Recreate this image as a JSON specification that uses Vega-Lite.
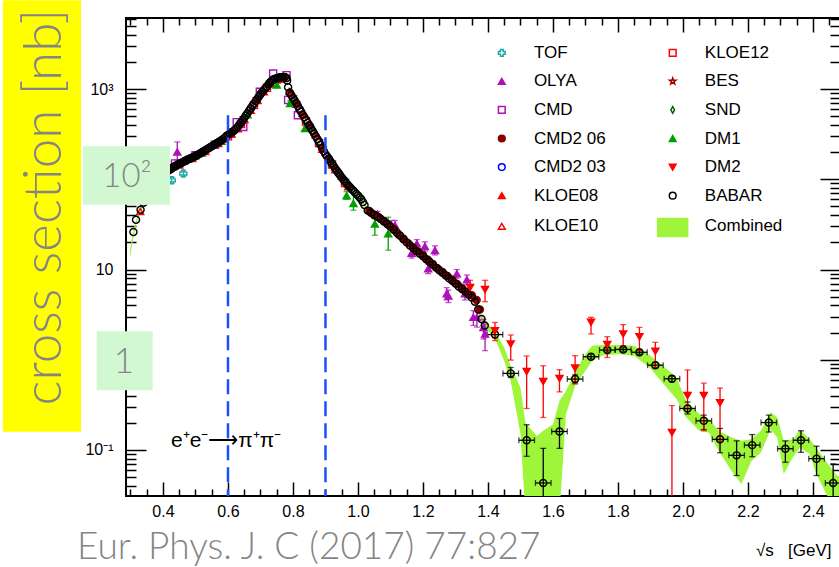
{
"$schema": "https://vega.github.io/schema/vega-lite/v6.json",
"width": 714, "height": 478,
"autosize": {"type": "none"},
"padding": {"left": 126, "top": 18, "right": 0, "bottom": 71},
"background": "white",
"config": {"view": {"stroke": "black", "strokeWidth": 2}, "axis": {"grid": false}},
"resolve": {"axis": {"x": "independent", "y": "independent"}},
"datasets": {
"band": [
{"x":0.2985,"lo":13.5,"hi":16},{"x":0.305,"lo":19,"hi":23},{"x":0.31,"lo":24,"hi":28},{"x":0.32,"lo":34,"hi":38},{"x":0.33,"lo":43,"hi":47},{"x":0.35,"lo":62,"hi":66},{"x":0.4,"lo":109,"hi":115},{"x":0.45,"lo":145,"hi":153},{"x":0.5,"lo":177,"hi":187},{"x":0.55,"lo":226,"hi":238},{"x":0.6,"lo":302,"hi":318},{"x":0.65,"lo":467,"hi":493},{"x":0.7,"lo":860,"hi":900},{"x":0.74,"lo":1255,"hi":1315},{"x":0.77,"lo":1335,"hi":1395},{"x":0.78,"lo":1300,"hi":1360},{"x":0.785,"lo":1025,"hi":1075},{"x":0.79,"lo":890,"hi":930},{"x":0.8,"lo":780,"hi":820},{"x":0.85,"lo":385,"hi":405},{"x":0.9,"lo":185,"hi":195},{"x":0.95,"lo":102,"hi":108},{"x":1.0,"lo":64,"hi":68},{"x":1.02,"lo":50,"hi":54},{"x":1.05,"lo":39.5,"hi":41.5},{"x":1.1,"lo":29,"hi":31},{"x":1.15,"lo":19.4,"hi":20.6},{"x":1.2,"lo":13.6,"hi":14.4},{"x":1.25,"lo":9.5,"hi":10.1},{"x":1.3,"lo":6.8,"hi":7.2},{"x":1.35,"lo":4.7,"hi":5.1},{"x":1.38,"lo":2.75,"hi":3.05},{"x":1.4,"lo":2.1,"hi":2.5},{"x":1.42,"lo":1.75,"hi":2.1},{"x":1.45,"lo":0.97,"hi":1.37},{"x":1.47,"lo":0.58,"hi":0.86},{"x":1.5,"lo":0.15,"hi":0.49},{"x":1.515,"lo":0.02,"hi":0.2},{"x":1.55,"lo":0.02,"hi":0.143},{"x":1.57,"lo":0.02,"hi":0.163},{"x":1.6,"lo":0.02,"hi":0.193},{"x":1.62,"lo":0.02,"hi":0.35},{"x":1.64,"lo":0.25,"hi":0.45},{"x":1.67,"lo":0.537,"hi":0.755},{"x":1.7,"lo":0.755,"hi":1.16},{"x":1.72,"lo":0.97,"hi":1.43},{"x":1.75,"lo":1.11,"hi":1.46},{"x":1.8,"lo":1.16,"hi":1.46},{"x":1.85,"lo":1.11,"hi":1.43},{"x":1.9,"lo":0.8,"hi":1.11},{"x":1.95,"lo":0.49,"hi":0.79},{"x":1.98,"lo":0.366,"hi":0.635},{"x":2.01,"lo":0.229,"hi":0.35},{"x":2.05,"lo":0.163,"hi":0.25},{"x":2.08,"lo":0.155,"hi":0.22},{"x":2.11,"lo":0.097,"hi":0.163},{"x":2.15,"lo":0.058,"hi":0.137},{"x":2.18,"lo":0.042,"hi":0.126},{"x":2.21,"lo":0.075,"hi":0.131},{"x":2.24,"lo":0.094,"hi":0.163},{"x":2.27,"lo":0.17,"hi":0.262},{"x":2.29,"lo":0.137,"hi":0.229},{"x":2.31,"lo":0.054,"hi":0.126},{"x":2.34,"lo":0.085,"hi":0.131},{"x":2.36,"lo":0.106,"hi":0.17},{"x":2.39,"lo":0.09,"hi":0.131},{"x":2.41,"lo":0.054,"hi":0.106},{"x":2.44,"lo":0.033,"hi":0.075},{"x":2.47,"lo":0.02,"hi":0.054},{"x":2.49,"lo":0.02,"hi":0.045}
],
"pts": [
{"e":"KLOE10","x":0.33,"y":44},{"e":"KLOE10","x":0.37,"y":79},{"e":"KLOE10","x":0.41,"y":116},{"e":"KLOE10","x":0.45,"y":144},{"e":"KLOE10","x":0.49,"y":170},{"e":"KLOE10","x":0.53,"y":203},{"e":"KLOE10","x":0.57,"y":250},{"e":"KLOE10","x":0.61,"y":320},{"e":"KLOE10","x":0.65,"y":465},{"e":"KLOE10","x":0.69,"y":755},{"e":"KLOE10","x":0.73,"y":1150},{"e":"KLOE10","x":0.77,"y":1320},{"e":"KLOE10","x":0.81,"y":680},{"e":"KLOE10","x":0.85,"y":382},{"e":"KLOE10","x":0.89,"y":215},{"e":"KLOE10","x":0.93,"y":128},{"e":"KLOE10","x":0.97,"y":83},
{"e":"KLOE12","x":0.6,"y":300},{"e":"KLOE12","x":0.64,"y":410},{"e":"KLOE12","x":0.68,"y":665},{"e":"KLOE12","x":0.72,"y":1035},{"e":"KLOE12","x":0.76,"y":1310},{"e":"KLOE12","x":0.8,"y":775},{"e":"KLOE12","x":0.84,"y":440},{"e":"KLOE12","x":0.88,"y":252},{"e":"KLOE12","x":0.92,"y":146},{"e":"KLOE12","x":0.96,"y":91},
{"e":"KLOE08","x":0.59,"y":280},{"e":"KLOE08","x":0.61,"y":318},{"e":"KLOE08","x":0.63,"y":365},{"e":"KLOE08","x":0.65,"y":460},{"e":"KLOE08","x":0.67,"y":585},{"e":"KLOE08","x":0.69,"y":750},{"e":"KLOE08","x":0.71,"y":935},{"e":"KLOE08","x":0.73,"y":1140},{"e":"KLOE08","x":0.75,"y":1265},{"e":"KLOE08","x":0.77,"y":1310},{"e":"KLOE08","x":0.79,"y":940},{"e":"KLOE08","x":0.81,"y":730},{"e":"KLOE08","x":0.83,"y":540},{"e":"KLOE08","x":0.85,"y":410},{"e":"KLOE08","x":0.87,"y":312},{"e":"KLOE08","x":0.89,"y":230},{"e":"KLOE08","x":0.91,"y":174},{"e":"KLOE08","x":0.93,"y":137},{"e":"KLOE08","x":0.95,"y":109},{"e":"KLOE08","x":0.97,"y":89},
{"e":"SND","x":0.4,"y":110},{"e":"SND","x":0.46,"y":153},{"e":"SND","x":0.473,"y":163},{"e":"SND","x":0.52,"y":197},{"e":"SND","x":0.58,"y":268},{"e":"SND","x":0.64,"y":430},{"e":"SND","x":0.7,"y":870},{"e":"SND","x":0.76,"y":1340},{"e":"SND","x":0.8,"y":790},{"e":"SND","x":0.86,"y":340},{"e":"SND","x":0.92,"y":148},{"e":"SND","x":0.97,"y":85},
{"e":"BES","x":0.61,"y":328},{"e":"BES","x":0.65,"y":478},{"e":"BES","x":0.69,"y":778},{"e":"BES","x":0.73,"y":1185},{"e":"BES","x":0.77,"y":1360},{"e":"BES","x":0.81,"y":698},{"e":"BES","x":0.85,"y":393},{"e":"BES","x":0.89,"y":221},
{"e":"CMD2 03","x":0.61,"y":332},{"e":"CMD2 03","x":0.64,"y":428},{"e":"CMD2 03","x":0.67,"y":612},{"e":"CMD2 03","x":0.7,"y":884},{"e":"CMD2 03","x":0.73,"y":1195},{"e":"CMD2 03","x":0.76,"y":1355},{"e":"CMD2 03","x":0.79,"y":915},{"e":"CMD2 03","x":0.82,"y":603},{"e":"CMD2 03","x":0.85,"y":398},{"e":"CMD2 03","x":0.88,"y":262},{"e":"CMD2 03","x":0.91,"y":170},{"e":"CMD2 03","x":0.94,"y":118},{"e":"CMD2 03","x":0.96,"y":95},
{"e":"CMD","x":0.437,"y":150},{"e":"CMD","x":0.5,"y":185},{"e":"CMD","x":0.56,"y":242},{"e":"CMD","x":0.627,"y":430},{"e":"CMD","x":0.647,"y":381},{"e":"CMD","x":0.698,"y":935},{"e":"CMD","x":0.739,"y":1490},{"e":"CMD","x":0.78,"y":1430},{"e":"CMD","x":0.785,"y":760},{"e":"CMD","x":0.815,"y":514},
{"e":"TOF","x":0.427,"y":97.5,"lo":90,"hi":105},{"e":"TOF","x":0.4625,"y":116,"lo":108,"hi":124},
{"e":"DM1","x":0.483,"y":171},{"e":"DM1","x":0.52,"y":196},{"e":"DM1","x":0.58,"y":265},{"e":"DM1","x":0.66,"y":520},{"e":"DM1","x":0.75,"y":1110,"lo":1040,"hi":1180},{"e":"DM1","x":0.791,"y":693,"lo":650,"hi":740},{"e":"DM1","x":0.837,"y":366,"lo":340,"hi":392},{"e":"DM1","x":0.965,"y":66,"lo":60,"hi":73},{"e":"DM1","x":0.986,"y":54,"lo":45.5,"hi":72.8},{"e":"DM1","x":1.052,"y":32,"lo":24,"hi":38.4},{"e":"DM1","x":1.093,"y":25,"lo":16.4,"hi":38},
{"e":"OLYA","x":0.444,"y":201,"lo":163,"hi":260},{"e":"OLYA","x":1.06,"y":41,"lo":38,"hi":44},{"e":"OLYA","x":1.103,"y":31,"lo":27.5,"hi":35},{"e":"OLYA","x":1.114,"y":30.8,"lo":27,"hi":35},{"e":"OLYA","x":1.165,"y":15.2,"lo":13.4,"hi":17.2},{"e":"OLYA","x":1.181,"y":19.3,"lo":17.2,"hi":21.5},{"e":"OLYA","x":1.206,"y":18,"lo":16,"hi":20.3},{"e":"OLYA","x":1.216,"y":10.2,"lo":9,"hi":11.5},{"e":"OLYA","x":1.237,"y":16.3,"lo":14.5,"hi":18.3},{"e":"OLYA","x":1.273,"y":5.4,"lo":4.6,"hi":6.3},{"e":"OLYA","x":1.278,"y":5.1,"lo":4.3,"hi":5.9},{"e":"OLYA","x":1.304,"y":8.96,"lo":8,"hi":10},{"e":"OLYA","x":1.329,"y":5.4,"lo":4.6,"hi":6.2},{"e":"OLYA","x":1.335,"y":7.7,"lo":6.8,"hi":8.7},{"e":"OLYA","x":1.355,"y":2.95,"lo":2.4,"hi":3.5},{"e":"OLYA","x":1.366,"y":2.95,"lo":2.3,"hi":3.6},{"e":"OLYA","x":1.386,"y":2.28,"lo":1.7,"hi":2.8},{"e":"OLYA","x":1.391,"y":1.93,"lo":1.26,"hi":2.49},
{"e":"CMD2 06","x":0.375,"y":86},{"e":"CMD2 06","x":0.39,"y":100},{"e":"CMD2 06","x":0.41,"y":118},{"e":"CMD2 06","x":0.425,"y":130},{"e":"CMD2 06","x":0.44,"y":140},{"e":"CMD2 06","x":0.455,"y":150},{"e":"CMD2 06","x":0.47,"y":160},{"e":"CMD2 06","x":0.485,"y":170},{"e":"CMD2 06","x":0.5,"y":180},{"e":"CMD2 06","x":0.52,"y":198},
{"e":"CMD2 06","x":1.035,"y":44.5},{"e":"CMD2 06","x":1.05,"y":40},{"e":"CMD2 06","x":1.065,"y":37.8},{"e":"CMD2 06","x":1.08,"y":34.5},{"e":"CMD2 06","x":1.095,"y":31},{"e":"CMD2 06","x":1.11,"y":28},{"e":"CMD2 06","x":1.125,"y":24.5},{"e":"CMD2 06","x":1.14,"y":22},{"e":"CMD2 06","x":1.155,"y":19.5},{"e":"CMD2 06","x":1.17,"y":17.5},{"e":"CMD2 06","x":1.185,"y":15.8},{"e":"CMD2 06","x":1.2,"y":14.5},{"e":"CMD2 06","x":1.215,"y":12.8},{"e":"CMD2 06","x":1.23,"y":11.5},{"e":"CMD2 06","x":1.245,"y":10.3},{"e":"CMD2 06","x":1.26,"y":9.4},{"e":"CMD2 06","x":1.275,"y":8.5},{"e":"CMD2 06","x":1.29,"y":7.7},{"e":"CMD2 06","x":1.305,"y":6.9},{"e":"CMD2 06","x":1.32,"y":6.2},{"e":"CMD2 06","x":1.335,"y":5.6},{"e":"CMD2 06","x":1.35,"y":5.2},{"e":"CMD2 06","x":1.365,"y":4.6},{"e":"CMD2 06","x":1.375,"y":3.6},
{"e":"BABAR","x":0.309,"y":26},{"e":"BABAR","x":0.317,"y":35.6},{"e":"BABAR","x":0.331,"y":46},{"e":"BABAR","x":0.34,"y":55},{"e":"BABAR","x":0.345,"y":59.5},{"e":"BABAR","x":0.35,"y":64},{"e":"BABAR","x":0.355,"y":68.5},{"e":"BABAR","x":0.36,"y":73},{"e":"BABAR","x":0.365,"y":77.5},{"e":"BABAR","x":0.37,"y":82},{"e":"BABAR","x":0.375,"y":87},{"e":"BABAR","x":0.38,"y":92},{"e":"BABAR","x":0.385,"y":97},{"e":"BABAR","x":0.39,"y":102},{"e":"BABAR","x":0.395,"y":107},{"e":"BABAR","x":0.4,"y":112},{"e":"BABAR","x":0.405,"y":116},{"e":"BABAR","x":0.41,"y":120},{"e":"BABAR","x":0.415,"y":124},{"e":"BABAR","x":0.42,"y":128},{"e":"BABAR","x":0.425,"y":131.5},{"e":"BABAR","x":0.43,"y":135},{"e":"BABAR","x":0.435,"y":138.5},{"e":"BABAR","x":0.44,"y":142},{"e":"BABAR","x":0.445,"y":145.5},{"e":"BABAR","x":0.45,"y":149},{"e":"BABAR","x":0.455,"y":152},{"e":"BABAR","x":0.46,"y":155},{"e":"BABAR","x":0.465,"y":158.5},{"e":"BABAR","x":0.47,"y":162},{"e":"BABAR","x":0.475,"y":165},{"e":"BABAR","x":0.48,"y":168},{"e":"BABAR","x":0.485,"y":171.5},{"e":"BABAR","x":0.49,"y":175},{"e":"BABAR","x":0.495,"y":178.5},{"e":"BABAR","x":0.5,"y":182},{"e":"BABAR","x":0.505,"y":186},{"e":"BABAR","x":0.51,"y":190},{"e":"BABAR","x":0.515,"y":195},{"e":"BABAR","x":0.52,"y":200},{"e":"BABAR","x":0.525,"y":205},{"e":"BABAR","x":0.53,"y":210},{"e":"BABAR","x":0.535,"y":215.5},{"e":"BABAR","x":0.54,"y":221},{"e":"BABAR","x":0.545,"y":226.5},{"e":"BABAR","x":0.55,"y":232},{"e":"BABAR","x":0.555,"y":238.5},{"e":"BABAR","x":0.56,"y":245},{"e":"BABAR","x":0.565,"y":251.5},{"e":"BABAR","x":0.57,"y":258},{"e":"BABAR","x":0.575,"y":265},{"e":"BABAR","x":0.58,"y":272},{"e":"BABAR","x":0.585,"y":281},{"e":"BABAR","x":0.59,"y":290},{"e":"BABAR","x":0.595,"y":300},{"e":"BABAR","x":0.6,"y":310},{"e":"BABAR","x":0.605,"y":320},{"e":"BABAR","x":0.61,"y":330},{"e":"BABAR","x":0.615,"y":340},{"e":"BABAR","x":0.62,"y":350},{"e":"BABAR","x":0.625,"y":365},{"e":"BABAR","x":0.63,"y":380},{"e":"BABAR","x":0.635,"y":402},{"e":"BABAR","x":0.64,"y":425},{"e":"BABAR","x":0.645,"y":452},{"e":"BABAR","x":0.65,"y":480},{"e":"BABAR","x":0.655,"y":510},{"e":"BABAR","x":0.66,"y":540},{"e":"BABAR","x":0.665,"y":575},{"e":"BABAR","x":0.67,"y":610},{"e":"BABAR","x":0.675,"y":650},{"e":"BABAR","x":0.68,"y":690},{"e":"BABAR","x":0.685,"y":735},{"e":"BABAR","x":0.69,"y":780},{"e":"BABAR","x":0.695,"y":830},{"e":"BABAR","x":0.7,"y":880},{"e":"BABAR","x":0.705,"y":928},{"e":"BABAR","x":0.71,"y":975},{"e":"BABAR","x":0.715,"y":1022},{"e":"BABAR","x":0.72,"y":1070},{"e":"BABAR","x":0.725,"y":1130},{"e":"BABAR","x":0.73,"y":1190},{"e":"BABAR","x":0.735,"y":1240},{"e":"BABAR","x":0.74,"y":1285},{"e":"BABAR","x":0.745,"y":1305},{"e":"BABAR","x":0.75,"y":1320},{"e":"BABAR","x":0.755,"y":1335},{"e":"BABAR","x":0.76,"y":1350},{"e":"BABAR","x":0.765,"y":1358},{"e":"BABAR","x":0.77,"y":1365},{"e":"BABAR","x":0.775,"y":1360},{"e":"BABAR","x":0.78,"y":1330},{"e":"BABAR","x":0.782,"y":1250},{"e":"BABAR","x":0.785,"y":1050},{"e":"BABAR","x":0.79,"y":910},{"e":"BABAR","x":0.795,"y":855},{"e":"BABAR","x":0.8,"y":800},{"e":"BABAR","x":0.805,"y":750},{"e":"BABAR","x":0.81,"y":700},{"e":"BABAR","x":0.815,"y":650},{"e":"BABAR","x":0.82,"y":600},{"e":"BABAR","x":0.825,"y":560},{"e":"BABAR","x":0.83,"y":520},{"e":"BABAR","x":0.835,"y":487},{"e":"BABAR","x":0.84,"y":455},{"e":"BABAR","x":0.845,"y":425},{"e":"BABAR","x":0.85,"y":395},{"e":"BABAR","x":0.855,"y":370},{"e":"BABAR","x":0.86,"y":345},{"e":"BABAR","x":0.865,"y":322},{"e":"BABAR","x":0.87,"y":300},{"e":"BABAR","x":0.875,"y":280},{"e":"BABAR","x":0.88,"y":260},{"e":"BABAR","x":0.885,"y":240},{"e":"BABAR","x":0.89,"y":222},{"e":"BABAR","x":0.895,"y":205},{"e":"BABAR","x":0.9,"y":190},{"e":"BABAR","x":0.905,"y":179},{"e":"BABAR","x":0.91,"y":168},{"e":"BABAR","x":0.915,"y":159},{"e":"BABAR","x":0.92,"y":150},{"e":"BABAR","x":0.925,"y":141},{"e":"BABAR","x":0.93,"y":132},{"e":"BABAR","x":0.935,"y":124.5},{"e":"BABAR","x":0.94,"y":117},{"e":"BABAR","x":0.945,"y":111},{"e":"BABAR","x":0.95,"y":105},{"e":"BABAR","x":0.955,"y":99.5},{"e":"BABAR","x":0.96,"y":94},{"e":"BABAR","x":0.965,"y":90},{"e":"BABAR","x":0.97,"y":86},{"e":"BABAR","x":0.975,"y":82},{"e":"BABAR","x":0.98,"y":78},{"e":"BABAR","x":0.985,"y":75},{"e":"BABAR","x":0.99,"y":72},{"e":"BABAR","x":0.995,"y":69},{"e":"BABAR","x":1.0,"y":66},{"e":"BABAR","x":1.005,"y":63},{"e":"BABAR","x":1.01,"y":60},{"e":"BABAR","x":1.015,"y":56},{"e":"BABAR","x":1.02,"y":52},
{"e":"BABAR","x":1.03,"y":45},{"e":"BABAR","x":1.04,"y":42.5},{"e":"BABAR","x":1.05,"y":40.5},{"e":"BABAR","x":1.06,"y":38.5},{"e":"BABAR","x":1.07,"y":36.3},{"e":"BABAR","x":1.08,"y":34},{"e":"BABAR","x":1.09,"y":32},{"e":"BABAR","x":1.1,"y":30},{"e":"BABAR","x":1.11,"y":27.6},{"e":"BABAR","x":1.12,"y":25.5},{"e":"BABAR","x":1.13,"y":23.7},{"e":"BABAR","x":1.14,"y":21.7},{"e":"BABAR","x":1.15,"y":20},{"e":"BABAR","x":1.16,"y":18.5},{"e":"BABAR","x":1.17,"y":17.2},{"e":"BABAR","x":1.18,"y":16},{"e":"BABAR","x":1.19,"y":15},{"e":"BABAR","x":1.2,"y":14},{"e":"BABAR","x":1.21,"y":13},{"e":"BABAR","x":1.22,"y":12.2},{"e":"BABAR","x":1.23,"y":11.3},{"e":"BABAR","x":1.24,"y":10.5},{"e":"BABAR","x":1.25,"y":9.8},{"e":"BABAR","x":1.26,"y":9.2},{"e":"BABAR","x":1.27,"y":8.6},{"e":"BABAR","x":1.28,"y":8},{"e":"BABAR","x":1.29,"y":7.5},{"e":"BABAR","x":1.3,"y":7},{"e":"BABAR","x":1.31,"y":6.5},{"e":"BABAR","x":1.32,"y":6.1},{"e":"BABAR","x":1.33,"y":5.7},{"e":"BABAR","x":1.34,"y":5.3},{"e":"BABAR","x":1.35,"y":4.9},{"e":"BABAR","x":1.36,"y":4.4},{"e":"BABAR","x":1.37,"y":3.6},{"e":"BABAR","x":1.38,"y":2.83},{"e":"BABAR","x":1.39,"y":2.39},
{"e":"BABAR","x":1.4215,"y":1.9,"lo":1.75,"hi":2.05,"xl":1.3975,"xh":1.4455},{"e":"BABAR","x":1.47,"y":0.705,"lo":0.635,"hi":0.82,"xl":1.446,"xh":1.494},{"e":"BABAR","x":1.519,"y":0.128,"lo":0.085,"hi":0.19,"xl":1.495,"xh":1.543},{"e":"BABAR","x":1.57,"y":0.043,"lo":0.005,"hi":0.104,"xl":1.546,"xh":1.594},{"e":"BABAR","x":1.62,"y":0.16,"lo":0.104,"hi":0.223,"xl":1.596,"xh":1.644},{"e":"BABAR","x":1.668,"y":0.61,"lo":0.55,"hi":0.68,"xl":1.644,"xh":1.692},{"e":"BABAR","x":1.717,"y":1.08,"lo":1.02,"hi":1.15,"xl":1.693,"xh":1.741},{"e":"BABAR","x":1.767,"y":1.28,"lo":1.22,"hi":1.35,"xl":1.743,"xh":1.791},{"e":"BABAR","x":1.816,"y":1.3,"lo":1.24,"hi":1.36,"xl":1.792,"xh":1.84},{"e":"BABAR","x":1.866,"y":1.21,"lo":1.15,"hi":1.27,"xl":1.842,"xh":1.89},{"e":"BABAR","x":1.915,"y":0.87,"lo":0.82,"hi":0.93,"xl":1.891,"xh":1.939},{"e":"BABAR","x":1.966,"y":0.615,"lo":0.57,"hi":0.66,"xl":1.942,"xh":1.99},{"e":"BABAR","x":2.014,"y":0.288,"lo":0.25,"hi":0.34,"xl":1.99,"xh":2.038},{"e":"BABAR","x":2.064,"y":0.21,"lo":0.168,"hi":0.243,"xl":2.04,"xh":2.088},{"e":"BABAR","x":2.114,"y":0.131,"lo":0.093,"hi":0.173,"xl":2.09,"xh":2.138},{"e":"BABAR","x":2.165,"y":0.087,"lo":0.052,"hi":0.126,"xl":2.141,"xh":2.189},{"e":"BABAR","x":2.213,"y":0.113,"lo":0.084,"hi":0.148,"xl":2.189,"xh":2.237},{"e":"BABAR","x":2.264,"y":0.201,"lo":0.158,"hi":0.243,"xl":2.24,"xh":2.288},{"e":"BABAR","x":2.315,"y":0.103,"lo":0.073,"hi":0.126,"xl":2.291,"xh":2.339},{"e":"BABAR","x":2.363,"y":0.128,"lo":0.094,"hi":0.163,"xl":2.339,"xh":2.387},{"e":"BABAR","x":2.411,"y":0.08,"lo":0.052,"hi":0.11,"xl":2.387,"xh":2.435},{"e":"BABAR","x":2.462,"y":0.043,"lo":0.02,"hi":0.07,"xl":2.438,"xh":2.486},
{"e":"DM2","x":1.345,"y":6.3,"lo":5.2,"hi":7.6},{"e":"DM2","x":1.391,"y":6.0,"lo":4.4,"hi":7.6},{"e":"DM2","x":1.4215,"y":2.1,"lo":1.63,"hi":2.59},{"e":"DM2","x":1.47,"y":1.49,"lo":0.99,"hi":1.88},{"e":"DM2","x":1.519,"y":0.74,"lo":0.288,"hi":1.1},{"e":"DM2","x":1.57,"y":0.574,"lo":0.229,"hi":0.857},{"e":"DM2","x":1.62,"y":0.62,"lo":0.44,"hi":0.775},{"e":"DM2","x":1.668,"y":0.81,"lo":0.537,"hi":1.11},{"e":"DM2","x":1.717,"y":2.6,"lo":1.93,"hi":2.95},{"e":"DM2","x":1.767,"y":1.47,"lo":1.06,"hi":1.8},{"e":"DM2","x":1.816,"y":1.93,"lo":1.43,"hi":2.45},{"e":"DM2","x":1.866,"y":1.8,"lo":1.26,"hi":2.28},{"e":"DM2","x":1.915,"y":1.24,"lo":0.82,"hi":1.56},{"e":"DM2","x":1.966,"y":0.156,"lo":0.001,"hi":0.31},{"e":"DM2","x":2.014,"y":0.4,"lo":0.283,"hi":0.77},{"e":"DM2","x":2.064,"y":0.4,"lo":0.163,"hi":0.55},{"e":"DM2","x":2.114,"y":0.333,"lo":0.126,"hi":0.485}
]
},
"layer": [
{
"data": {"name": "band"},
"mark": {"type": "area", "color": "#9ef53a", "clip": true},
"encoding": {
"x": {"field": "x", "type": "quantitative", "scale": {"domain": [0.2862, 2.4831], "nice": false, "zero": false},
 "axis": {"orient": "bottom", "domain": false, "ticks": false, "tickSize": 0, "values": [0.4,0.6,0.8,1,1.2,1.4,1.6,1.8,2,2.2,2.4],
 "labelFont": "Liberation Sans", "labelFontSize": 16, "labelColor": "black", "labelPadding": 7, "labelOverlap": false, "labelFlush": false,
 "title": "√s\u00a0\u00a0\u00a0[GeV]", "titleX": 705, "titleY": 59, "titleAlign": "right", "titleBaseline": "alphabetic", "titleFont": "Liberation Sans", "titleFontSize": 17, "titleFontWeight": "normal", "titleColor": "black"}},
"y": {"field": "lo", "type": "quantitative", "scale": {"type": "log", "domain": [0.03083, 6150], "nice": false},
 "axis": {"orient": "left", "domain": false, "ticks": false, "tickSize": 0, "values": [0.1, 10, 1000],
 "labelExpr": "datum.value==1000 ? '10³' : datum.value==10 ? '10' : '10⁻¹'",
 "labelFont": "Liberation Sans", "labelFontSize": 16, "labelColor": "black", "labelPadding": 13, "labelOverlap": false, "labelFlush": false, "title": null}},
"y2": {"field": "hi"}
}
},
{
"data": {"name": "pts"},
"transform": [{"filter": "isValid(datum.lo)"}],
"mark": {"type": "rule", "strokeWidth": 1.3, "clip": true},
"encoding": {
"x": {"field": "x", "type": "quantitative", "scale": {"domain": [0.2862, 2.4831], "nice": false, "zero": false},
 "axis": {"orient": "bottom", "domain": false, "labels": false, "title": null, "values": [0.3,0.35,0.4,0.45,0.5,0.55,0.6,0.65,0.7,0.75,0.8,0.85,0.9,0.95,1,1.05,1.1,1.15,1.2,1.25,1.3,1.35,1.4,1.45,1.5,1.55,1.6,1.65,1.7,1.75,1.8,1.85,1.9,1.95,2,2.05,2.1,2.15,2.2,2.25,2.3,2.35,2.4,2.45],
 "tickSize": {"condition": {"test": "abs(datum.value*5-round(datum.value*5))<0.001", "value": -14}, "value": -7}, "tickColor": "black", "tickWidth": 1.5}},
"y": {"field": "lo", "type": "quantitative", "scale": {"type": "log", "domain": [0.03083, 6150], "nice": false},
 "axis": {"orient": "left", "domain": false, "labels": false, "title": null, "values": [0.04,0.05,0.06,0.07,0.08,0.09,0.1,0.2,0.3,0.4,0.5,0.6,0.7,0.8,0.9,1,2,3,4,5,6,7,8,9,10,20,30,40,50,60,70,80,90,100,200,300,400,500,600,700,800,900,1000,2000,3000,4000,5000,6000],
 "tickSize": {"condition": {"test": "abs(log(datum.value)/LN10-round(log(datum.value)/LN10))<0.001", "value": -20}, "value": -10}, "tickColor": "black", "tickWidth": 1.5}},
"y2": {"field": "hi"},
"color": {"field": "e", "type": "nominal", "scale": {"domain": ["BABAR","DM2","OLYA","DM1","TOF"], "range": ["#000000","#ff0000","#b010b8","#00a000","#1aa7a7"]}, "legend": null}
}
},
{
"data": {"name": "pts"},
"transform": [{"filter": "isValid(datum.lo)"}, {"fold": ["lo", "hi"], "as": ["k", "v"]}],
"mark": {"type": "tick", "orient": "horizontal", "size": 6, "thickness": 1.3, "clip": true},
"encoding": {
"x": {"field": "x", "type": "quantitative", "scale": {"domain": [0.2862, 2.4831], "nice": false, "zero": false}, "axis": null},
"y": {"field": "v", "type": "quantitative", "scale": {"type": "log", "domain": [0.03083, 6150], "nice": false}, "axis": null},
"color": {"field": "e", "type": "nominal", "scale": {"domain": ["BABAR","DM2","OLYA","DM1","TOF"], "range": ["#000000","#ff0000","#b010b8","#00a000","#1aa7a7"]}, "legend": null}
}
},
{
"data": {"name": "pts"},
"transform": [{"filter": "isValid(datum.xl)"}],
"mark": {"type": "rule", "strokeWidth": 1.3, "color": "black", "clip": true},
"encoding": {
"x": {"field": "xl", "type": "quantitative", "scale": {"domain": [0.2862, 2.4831], "nice": false, "zero": false}, "axis": null},
"x2": {"field": "xh"},
"y": {"field": "y", "type": "quantitative", "scale": {"type": "log", "domain": [0.03083, 6150], "nice": false}, "axis": null}
}
},
{
"data": {"name": "pts"},
"transform": [{"filter": "isValid(datum.xl)"}, {"fold": ["xl", "xh"], "as": ["k", "v"]}],
"mark": {"type": "tick", "orient": "vertical", "size": 6, "thickness": 1.3, "color": "black", "clip": true},
"encoding": {
"x": {"field": "v", "type": "quantitative", "scale": {"domain": [0.2862, 2.4831], "nice": false, "zero": false}, "axis": null},
"y": {"field": "y", "type": "quantitative", "scale": {"type": "log", "domain": [0.03083, 6150], "nice": false}, "axis": null}
}
},
{
"data": {"name": "pts"},
"mark": {"type": "point", "size": 50, "strokeWidth": 1.4, "opacity": 1},
"encoding": {
"x": {"field": "x", "type": "quantitative", "scale": {"domain": [0.2862, 2.4831], "nice": false, "zero": false},
 "axis": {"orient": "top", "domain": false, "labels": false, "title": null, "values": [0.3,0.35,0.4,0.45,0.5,0.55,0.6,0.65,0.7,0.75,0.8,0.85,0.9,0.95,1,1.05,1.1,1.15,1.2,1.25,1.3,1.35,1.4,1.45,1.5,1.55,1.6,1.65,1.7,1.75,1.8,1.85,1.9,1.95,2,2.05,2.1,2.15,2.2,2.25,2.3,2.35,2.4,2.45],
 "tickSize": {"condition": {"test": "abs(datum.value*5-round(datum.value*5))<0.001", "value": -14}, "value": -7}, "tickColor": "black", "tickWidth": 1.5}},
"y": {"field": "y", "type": "quantitative", "scale": {"type": "log", "domain": [0.03083, 6150], "nice": false},
 "axis": {"orient": "right", "domain": false, "labels": false, "title": null, "values": [0.04,0.05,0.06,0.07,0.08,0.09,0.1,0.2,0.3,0.4,0.5,0.6,0.7,0.8,0.9,1,2,3,4,5,6,7,8,9,10,20,30,40,50,60,70,80,90,100,200,300,400,500,600,700,800,900,1000,2000,3000,4000,5000,6000],
 "tickSize": {"condition": {"test": "abs(log(datum.value)/LN10-round(log(datum.value)/LN10))<0.001", "value": -20}, "value": -10}, "tickColor": "black", "tickWidth": 1.5}},
"shape": {"field": "e", "type": "nominal",
 "scale": {"domain": ["TOF","OLYA","CMD","CMD2 06","CMD2 03","KLOE08","KLOE10","KLOE12","BES","SND","DM1","DM2","BABAR","Combined"],
 "range": ["cross","triangle-up","square","circle","circle","triangle-up","triangle-up","square","M0,-1L0.235,-0.324L0.951,-0.309L0.38,0.124L0.588,0.809L0,0.4L-0.588,0.809L-0.38,0.124L-0.951,-0.309L-0.235,-0.324Z","M0,-1L0.55,0L0,1L-0.55,0Z","triangle-up","triangle-down","circle","M-4.47,-2.35H4.47V3.05H-4.47Z"]},
 "legend": {"orient": "none", "legendX": 367.3, "legendY": 26.2, "columns": 2, "title": null, "padding": 0, "labelFont": "Liberation Sans", "labelFontSize": 17, "labelColor": "black", "symbolSize": 45, "symbolStrokeWidth": 1.5, "symbolOpacity": 1, "labelOffset": 23.6, "rowPadding": 10.6, "columnPadding": 47.9}},
"stroke": {"field": "e", "type": "nominal",
 "scale": {"domain": ["TOF","OLYA","CMD","CMD2 06","CMD2 03","KLOE08","KLOE10","KLOE12","BES","SND","DM1","DM2","BABAR","Combined"],
 "range": ["#1aa7a7","#b010b8","#b010b8","#8b0000","#0000ff","#ff0000","#ff0000","#ff0000","#a00000","#006400","#00a000","#ff0000","#000000","#9ef53a"]},
 "legend": {"orient": "none", "legendX": 367.3, "legendY": 26.2, "columns": 2, "title": null, "padding": 0, "labelFont": "Liberation Sans", "labelFontSize": 17, "labelColor": "black", "symbolSize": 45, "symbolStrokeWidth": 1.5, "symbolOpacity": 1, "labelOffset": 23.6, "rowPadding": 10.6, "columnPadding": 47.9}},
"fill": {"field": "e", "type": "nominal",
 "scale": {"domain": ["TOF","OLYA","CMD","CMD2 06","CMD2 03","KLOE08","KLOE10","KLOE12","BES","SND","DM1","DM2","BABAR","Combined"],
 "range": ["transparent","#b010b8","transparent","#8b0000","transparent","#ff0000","transparent","transparent","transparent","transparent","#00a000","#ff0000","transparent","#9ef53a"]},
 "legend": {"orient": "none", "legendX": 367.3, "legendY": 26.2, "columns": 2, "title": null, "padding": 0, "labelFont": "Liberation Sans", "labelFontSize": 17, "labelColor": "black", "symbolSize": 45, "symbolStrokeWidth": 1.5, "symbolOpacity": 1, "labelOffset": 23.6, "rowPadding": 10.6, "columnPadding": 47.9}}
}
},
{
"data": {"values": [{"x": 0.6, "top": 515}, {"x": 0.9, "top": 515}]},
"mark": {"type": "rule", "color": "#1a50ff", "strokeWidth": 2.5, "strokeDash": [15, 7]},
"encoding": {
"x": {"field": "x", "type": "quantitative", "scale": {"domain": [0.2862, 2.4831], "nice": false, "zero": false}, "axis": null},
"y": {"field": "top", "type": "quantitative", "scale": {"type": "log", "domain": [0.03083, 6150], "nice": false}, "axis": null},
"y2": {"datum": 0.0309}
}
},
{
"data": {"values": [{}]},
"mark": {"type": "rect", "color": "#ffff00"},
"encoding": {
"x": {"datum": -0.0923, "type": "quantitative", "scale": {"domain": [0.2862, 2.4831], "nice": false, "zero": false}, "axis": null},
"x2": {"datum": 0.1477},
"y": {"datum": 9700, "type": "quantitative", "scale": {"type": "log", "domain": [0.03083, 6150], "nice": false}, "axis": null},
"y2": {"datum": 0.1586}
}
},
{
"data": {"values": [{}]},
"mark": {"type": "rect", "color": "#d2f8d2"},
"encoding": {
"x": {"datum": 0.1529, "type": "quantitative", "scale": {"domain": [0.2862, 2.4831], "nice": false, "zero": false}, "axis": null},
"x2": {"datum": 0.4215},
"y": {"datum": 233.4, "type": "quantitative", "scale": {"type": "log", "domain": [0.03083, 6150], "nice": false}, "axis": null},
"y2": {"datum": 52.2}
}
},
{
"data": {"values": [{}]},
"mark": {"type": "rect", "color": "#d2f8d2"},
"encoding": {
"x": {"datum": 0.196, "type": "quantitative", "scale": {"domain": [0.2862, 2.4831], "nice": false, "zero": false}, "axis": null},
"x2": {"datum": 0.3683},
"y": {"datum": 2.074, "type": "quantitative", "scale": {"type": "log", "domain": [0.03083, 6150], "nice": false}, "axis": null},
"y2": {"datum": 0.46}
}
},
{
"data": {"values": [{}]},
"mark": {"type": "text", "font": "Lato", "fontWeight": 300, "fontSize": 53, "color": "#858585", "angle": 270, "align": "center", "baseline": "alphabetic"},
"encoding": {
"x": {"datum": 0.0862, "type": "quantitative", "scale": {"domain": [0.2862, 2.4831], "nice": false, "zero": false}, "axis": null},
"y": {"datum": 49.2, "type": "quantitative", "scale": {"type": "log", "domain": [0.03083, 6150], "nice": false}, "axis": null},
"text": {"value": "cross section [nb]"}
}
},
{
"data": {"values": [{}]},
"mark": {"type": "text", "font": "Lato", "fontWeight": 300, "fontSize": 33, "color": "#858585", "align": "center", "baseline": "alphabetic"},
"encoding": {
"x": {"datum": 0.2892, "type": "quantitative", "scale": {"domain": [0.2862, 2.4831], "nice": false, "zero": false}, "axis": null},
"y": {"datum": 81.3, "type": "quantitative", "scale": {"type": "log", "domain": [0.03083, 6150], "nice": false}, "axis": null},
"text": {"value": "10²"}
}
},
{
"data": {"values": [{}]},
"mark": {"type": "text", "font": "Lato", "fontWeight": 300, "fontSize": 35, "color": "#858585", "align": "center", "baseline": "alphabetic"},
"encoding": {
"x": {"datum": 0.28, "type": "quantitative", "scale": {"domain": [0.2862, 2.4831], "nice": false, "zero": false}, "axis": null},
"y": {"datum": 0.715, "type": "quantitative", "scale": {"type": "log", "domain": [0.03083, 6150], "nice": false}, "axis": null},
"text": {"value": "1"}
}
},
{
"data": {"values": [{}]},
"mark": {"type": "text", "font": "Lato", "fontWeight": 300, "fontSize": 37, "color": "#858585", "align": "left", "baseline": "alphabetic"},
"encoding": {
"x": {"datum": 0.1354, "type": "quantitative", "scale": {"domain": [0.2862, 2.4831], "nice": false, "zero": false}, "axis": null},
"y": {"datum": 0.00615, "type": "quantitative", "scale": {"type": "log", "domain": [0.03083, 6150], "nice": false}, "axis": null},
"text": {"value": "Eur. Phys. J. C (2017) 77:827"}
}
},
{
"data": {"values": [{}]},
"mark": {"type": "text", "font": "Liberation Sans", "fontSize": 21, "color": "black", "align": "left", "baseline": "alphabetic"},
"encoding": {
"x": {"datum": 0.4246, "type": "quantitative", "scale": {"domain": [0.2862, 2.4831], "nice": false, "zero": false}, "axis": null},
"y": {"datum": 0.1073, "type": "quantitative", "scale": {"type": "log", "domain": [0.03083, 6150], "nice": false}, "axis": null},
"text": {"value": "e⁺e⁻⟶π⁺π⁻"}
}
}
]
}
